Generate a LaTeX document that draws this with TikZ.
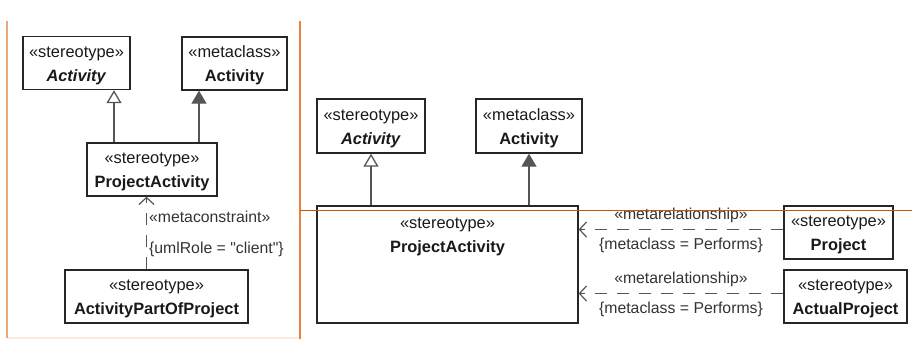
\documentclass[tikz,border=0pt]{standalone}
\usepackage{fontspec}
\setmainfont{Liberation Sans}[Ligatures=TeXOff]
\usetikzlibrary{arrows.meta, positioning}

\definecolor{linegray}{HTML}{555555}
\definecolor{frameleft}{HTML}{E9A97C}
\definecolor{frameright}{HTML}{E8843A}
\definecolor{framecut}{HTML}{C9560E}
\definecolor{framebottom}{HTML}{FDEBDD}

% two-line stereotype label, first line padded so the pair sits centred
\newcommand{\stlabel}[2]{\rule{0pt}{16pt}«#1»\\\textbf{#2}}

\begin{document}
\begin{tikzpicture}[
        x=1pt, y=-1pt,
        stereo/.style={draw=black!85, line width=1.4pt, fill=white, align=center, inner sep=0pt,
            minimum height=53pt, text=black!90, font=\fontsize{16.4}{24}\selectfont},
        tag/.style={font=\fontsize{15.8}{18}\selectfont, text=black!80, inner sep=1pt},
        gen/.style={-{Triangle[open, length=13pt, width=15pt]}, linegray, line width=1.3pt},
        ext/.style={-{Triangle[length=13pt, width=15pt]}, linegray, line width=1.3pt},
        dep/.style={-{Straight Barb[length=7pt, width=15pt]}, linegray, line width=1.2pt, dash pattern=on 12pt off 10pt},
        frame/.style={line width=1.6pt}
    ]
        \useasboundingbox (0,0) rectangle (912,339);

        % left diagram: profile definition
        \node[stereo, minimum width=107pt] (stAct) at (76.5,63) {\stlabel{stereotype}{\textit{Activity}}};
        \node[stereo, minimum width=105pt] (metaAct) at (234.5,63.5) {\stlabel{metaclass}{Activity}};
        \node[stereo, minimum width=130pt] (projAct) at (152,169.5) {\stlabel{stereotype}{ProjectActivity}};
        \node[stereo, minimum width=183pt] (partOf) at (156.5,296.5) {\stlabel{stereotype}{ActivityPartOfProject}};

        \draw[gen] ([xshift=-38pt]projAct.north) -- ([xshift=-38pt]projAct.north |- stAct.south);
        \draw[ext] ([xshift=47pt]projAct.north) -- ([xshift=47pt]projAct.north |- metaAct.south);
        \draw[dep] ([xshift=-10pt]partOf.north) -- ([xshift=-10pt]partOf.north |- projAct.south)
            node[tag, right=1pt, pos=0.72] {«metaconstraint»}
            node[tag, right=1pt, pos=0.28] {\{umlRole = "client"\}};

        % right diagram: stereotype with metarelationships
        \node[stereo, minimum width=108pt, minimum height=54pt] (stAct2) at (371,126) {\stlabel{stereotype}{\textit{Activity}}};
        \node[stereo, minimum width=106pt, minimum height=54pt] (metaAct2) at (529,126) {\stlabel{metaclass}{Activity}};
        \node[stereo, minimum width=261pt, minimum height=117pt] (bigProj) at (447.5,264.5) {};
        \node[align=center, inner sep=0pt, text=black!90, font=\fontsize{16.4}{24}\selectfont,
            below=12pt of bigProj.north] (bigTitle) {«stereotype»\\\textbf{ProjectActivity}};
        \node[stereo, minimum width=109pt] (project) at (838.5,232.5) {\stlabel{stereotype}{Project}};
        \node[stereo, minimum width=123pt] (actual) at (845.5,296.5) {\stlabel{stereotype}{ActualProject}};

        \draw[gen] (stAct2.south |- bigProj.north) -- (stAct2.south);
        \draw[ext] (metaAct2.south |- bigProj.north) -- (metaAct2.south);
        \draw[dep] ([yshift=3pt]project.west) -- ([yshift=3pt]project.west -| bigProj.east)
            node[tag, above=5pt, midway] {«metarelationship»}
            node[tag, below=7pt, midway] {\{metaclass = Performs\}};
        \draw[dep] ([yshift=3pt]actual.west) -- ([yshift=3pt]actual.west -| bigProj.east)
            node[tag, above=5pt, midway] {«metarelationship»}
            node[tag, below=7pt, midway] {\{metaclass = Performs\}};

        % cut lines
        \draw[frame, framebottom] (7,338) -- (300,338);
        \draw[frame, frameleft] (7,21) -- (7,338);
        \draw[frame, frameright] (300,21) -- (300,339);
        \draw[frame, framecut] (300,210.5) -- (912,210.5);
    \end{tikzpicture}
\end{document}
